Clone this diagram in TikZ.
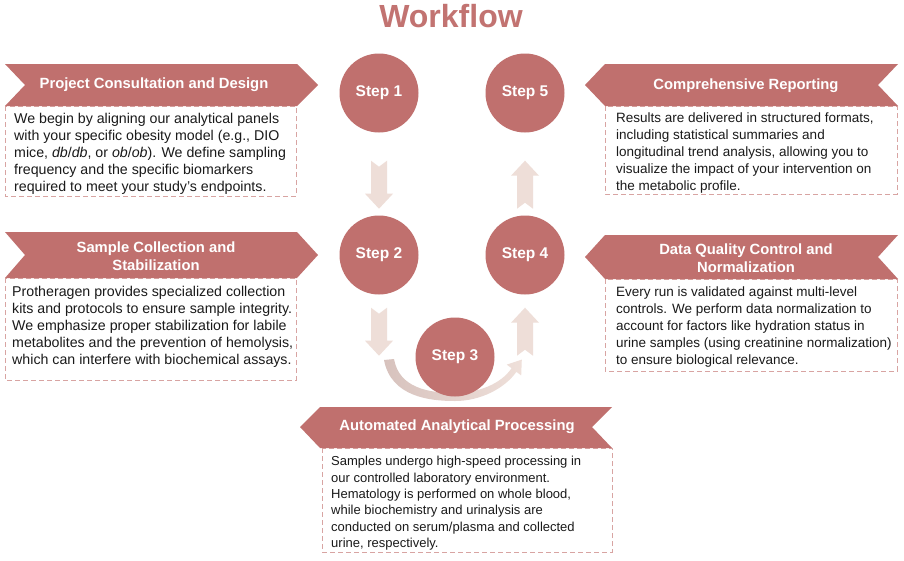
\documentclass[tikz,border=0pt]{standalone}
\usepackage{fontspec}
\setmainfont{Liberation Sans}
\usetikzlibrary{calc}
\definecolor{wred}{HTML}{C0706E}
\definecolor{wtitle}{HTML}{C27371}
\definecolor{warrow}{HTML}{EEDED8}
\definecolor{wcurveL}{HTML}{D7C2BD}
\definecolor{wcurveR}{HTML}{EFE0DA}
\definecolor{wdash}{HTML}{D8A4A2}
\definecolor{wtext}{HTML}{1A1A1A}
\tikzset{
  stepnode/.style={circle, fill=wred, minimum size=79pt, inner sep=0pt, text=white, font=\bfseries\fontsize{15.5}{18}\selectfont},
  bannerfill/.style={fill=wred},
  bannertext/.style={text=white, font=\bfseries\fontsize{14.8}{18}\selectfont, align=center, inner sep=0pt},
  bodytext/.style={text=wtext, align=left, inner sep=0pt, anchor=north west},
  bodyL/.style={bodytext, font=\fontsize{14.2}{17}\selectfont},
  bodyR/.style={bodytext, font=\fontsize{13.5}{17}\selectfont},
  bodyB/.style={bodytext, font=\fontsize{13}{16.4}\selectfont},
  dashbox/.style={draw=wdash, dash pattern=on 5pt off 3pt, line width=0.9pt},
  downarr/.pic={\fill[warrow] (-8,0) -- (0,6) -- (8,0) -- (8,33) -- (14,33) -- (0,48) -- (-14,33) -- (-8,33) -- cycle;},
  uparr/.pic={\fill[warrow] (0,0) -- (14,15) -- (8,15) -- (8,48) -- (0,42) -- (-8,48) -- (-8,15) -- (-14,15) -- cycle;}
}
\begin{document}
\begin{tikzpicture}[x=1pt,y=-1pt]
\useasboundingbox[fill=white] (0,0) rectangle (904,560);

% title
\node[text=wtitle, font=\bfseries\fontsize{32}{36}\selectfont, inner sep=0pt] (title) at (451,16) {Workflow};

% ---- boxes and banners ----
% 1 Project consultation
\draw[dashbox] (5,106) rectangle (296,196);
\fill[bannerfill] (5,64) -- (297,64) -- (318,85) -- (297,106) -- (5,106) -- (25,85) -- cycle;
\node[bannertext] (b1) at (154,85) {Project Consultation and Design};
\node[bodyL] (t1) at (14,113.5) {We begin by aligning our analytical panels\\with your specific obesity model (e.g., DIO\\mice, \textit{db}/\textit{db}, or \textit{ob}/\textit{ob}). We define sampling\\frequency and the specific biomarkers\\required to meet your study’s endpoints.};

% 2 Sample collection
\draw[dashbox] (5,278) rectangle (296,380);
\fill[bannerfill] (5,232) -- (297,232) -- (318,255) -- (297,278) -- (5,278) -- (25,255) -- cycle;
\node[bannertext] (b2) at (156,256) {Sample Collection and\\Stabilization};
\node[bodyL] (t2) at (12,286.5) {Protheragen provides specialized collection\\kits and protocols to ensure sample integrity.\\We emphasize proper stabilization for labile\\metabolites and the prevention of hemolysis,\\which can interfere with biochemical assays.};

% 5 Comprehensive reporting
\draw[dashbox] (605,106) rectangle (897,194);
\fill[bannerfill] (585,85) -- (605,64) -- (898,64) -- (878,85) -- (898,106) -- (605,106) -- cycle;
\node[bannertext] (b5) at (746,86) {Comprehensive Reporting};
\node[bodyR] (t5) at (616,112.8) {Results are delivered in structured formats,\\including statistical summaries and\\longitudinal trend analysis, allowing you to\\visualize the impact of your intervention on\\the metabolic profile.};

% 4 Data quality
\draw[dashbox] (605,279) rectangle (897,371);
\fill[bannerfill] (585,257) -- (605,235) -- (898,235) -- (878,257) -- (898,279) -- (605,279) -- cycle;
\node[bannertext] (b4) at (746,258) {Data Quality Control and\\Normalization};
\node[bodyR] (t4) at (616,286.8) {Every run is validated against multi-level\\controls. We perform data normalization to\\account for factors like hydration status in\\urine samples (using creatinine normalization)\\to ensure biological relevance.};

% 3 Automated processing
\draw[dashbox] (322,448) rectangle (612,552);
\fill[bannerfill] (300,427) -- (320,407) -- (612,407) -- (592,427) -- (612,448) -- (320,448) -- cycle;
\node[bannertext] (b3) at (457,427) {Automated Analytical Processing};
\node[bodyB] (t3) at (331,456) {Samples undergo high-speed processing in\\our controlled laboratory environment.\\Hematology is performed on whole blood,\\while biochemistry and urinalysis are\\conducted on serum/plasma and collected\\urine, respectively.};

% ---- curved arrow under step 3 ----
\coordinate (c3) at (455,357);
\begin{scope}[shift={(c3)}]
\shade[left color=wcurveL, right color=wcurveR]
  (-71,3) .. controls (-64,40) and (-25,44) .. (0,44)
  .. controls (26,44) and (50,31) .. (61.4,14.8)
  -- (66.2,18.4) -- (66.8,2.6) -- (51.8,7.6) -- (56.6,11.2)
  .. controls (46,27) and (23,36) .. (0,36)
  .. controls (-26,36) and (-56,31) .. (-61,2) -- cycle;
\end{scope}

% ---- steps ----
\node[stepnode] (s1) at (379,93) {Step 1};
\node[stepnode] (s5) at (525,93) {Step 5};
\node[stepnode] (s2) at (379,255) {Step 2};
\node[stepnode] (s4) at (525,255) {Step 4};
\node[stepnode] (s3) at (c3) {Step 3};

% ---- block arrows ----
\pic at ($(s1.south)+(0,28)$) {downarr};
\pic at ($(s2.south)+(0,13)$) {downarr};
\pic at ($(s4.south)+(0,13)$) {uparr};
\pic at ($(s5.south)+(0,28)$) {uparr};
\end{tikzpicture}
\end{document}
